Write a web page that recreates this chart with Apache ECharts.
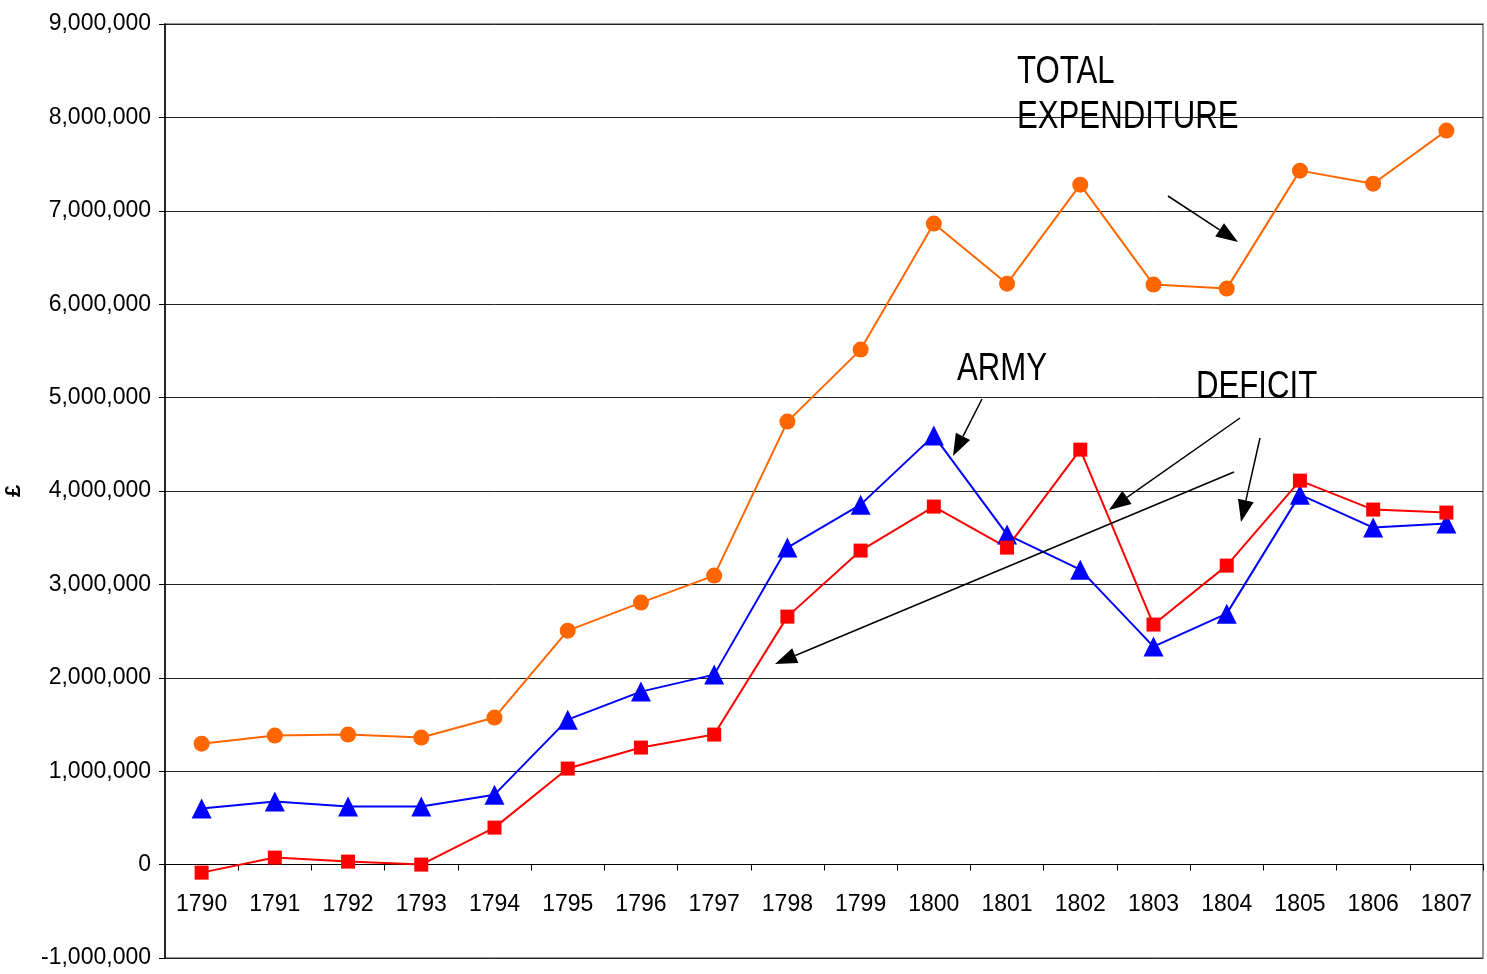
<!DOCTYPE html>
<html><head><meta charset="utf-8">
<script src="https://cdn.jsdelivr.net/npm/echarts@6/dist/echarts.min.js"></script>
<style>html,body{margin:0;padding:0;background:#fff}#c{width:1487px;height:974px}</style>
</head><body><div id="c"></div>
<script>
const years = ['1790','1791','1792','1793','1794','1795','1796','1797','1798','1799','1800','1801','1802','1803','1804','1805','1806','1807'];
const totalExpenditure = [1295000,1381000,1392000,1360000,1574000,2505000,2805000,3094000,4743000,5514000,6863000,6220000,7280000,6210000,6167000,7430000,7290000,7859000];
const army = [600000,675000,621000,621000,749000,1552000,1852000,2034000,3394000,3854000,4593000,3533000,3158000,2334000,2687000,3961000,3608000,3651000];
const deficit = [-86000,75000,32000,0,396000,1028000,1253000,1392000,2655000,3362000,3833000,3394000,4443000,2570000,3201000,4111000,3801000,3769000];
const yTicks = {min:-1000000, max:9000000, interval:1000000};

const FONT = '"Liberation Sans",Arial,sans-serif';
const chart = echarts.init(document.getElementById('c'));

const GRID = {left:165, right:4, top:24, bottom:16};
const plotH = 974 - GRID.top - GRID.bottom;
const zeroOffset = -plotH * (0 - yTicks.min) / (yTicks.max - yTicks.min);

function arrow(x1,y1,x2,y2){
  const dx=x2-x1, dy=y2-y1, len=Math.hypot(dx,dy), ux=dx/len, uy=dy/len;
  const L=22, W=8;
  const bx=x2-ux*L, by=y2-uy*L;
  return [
    {type:'line', shape:{x1:x1,y1:y1,x2:bx,y2:by}, style:{stroke:'#000',lineWidth:1.5}, z:100},
    {type:'polygon', shape:{points:[[x2,y2],[bx-uy*W,by+ux*W],[bx+uy*W,by-ux*W]]}, style:{fill:'#000'}, z:100}
  ];
}
function label(text,x,y){
  return {type:'text', x:x, y:y, scaleX:0.82, z:100,
    style:{text:text, font:'38px '+FONT, fill:'#000', textVerticalAlign:'middle'}};
}

const graphics = [].concat(
  arrow(1168,196,1238,242),
  arrow(982,399,953,456),
  arrow(1240,418,1109,510),
  arrow(1234,472,775,664),
  arrow(1260,438,1241,522),
  [label('TOTAL',1017,73), label('EXPENDITURE',1017,118), label('ARMY',957,370), label('DEFICIT',1196,388)]
);

chart.setOption({
  animation:false,
  grid:Object.assign({show:true,borderColor:'#777',borderWidth:1.5,
    containLabel:false,outerBoundsMode:'none'}, GRID),
  xAxis:{type:'category',data:years,boundaryGap:true,position:'bottom',offset:zeroOffset,
    axisLine:{onZero:false,lineStyle:{color:'#000',width:1}},
    axisTick:{show:true,inside:false,length:6,lineStyle:{color:'#000'}},
    axisLabel:{color:'#000',fontFamily:FONT,fontSize:23,margin:29},
    splitLine:{show:false}},
  yAxis:{type:'value',min:yTicks.min,max:yTicks.max,interval:yTicks.interval,
    name:'£',nameLocation:'middle',nameGap:140,nameRotate:90,
    nameTextStyle:{color:'#000',fontFamily:FONT,fontSize:22,fontWeight:'bold'},
    axisLine:{show:true,lineStyle:{color:'#000',width:1.5}},
    axisTick:{show:true,length:6,lineStyle:{color:'#000'}},
    axisLabel:{color:'#000',fontFamily:FONT,fontSize:23,margin:14,
      formatter:v=>v.toLocaleString('en-US')},
    splitLine:{show:true,lineStyle:{color:'#222',width:1}}},
  series:[
    {name:'Total Expenditure',type:'line',data:totalExpenditure,symbol:'circle',symbolSize:16,
      itemStyle:{color:'#FF6600'},lineStyle:{color:'#FF6600',width:2}},
    {name:'Army',type:'line',data:army,symbol:'triangle',symbolSize:20,
      itemStyle:{color:'#0000FF'},lineStyle:{color:'#0000FF',width:2}},
    {name:'Deficit',type:'line',data:deficit,symbol:'rect',symbolSize:14,
      itemStyle:{color:'#FF0000'},lineStyle:{color:'#FF0000',width:2}}
  ],
  graphic:graphics
});
</script></body></html>
